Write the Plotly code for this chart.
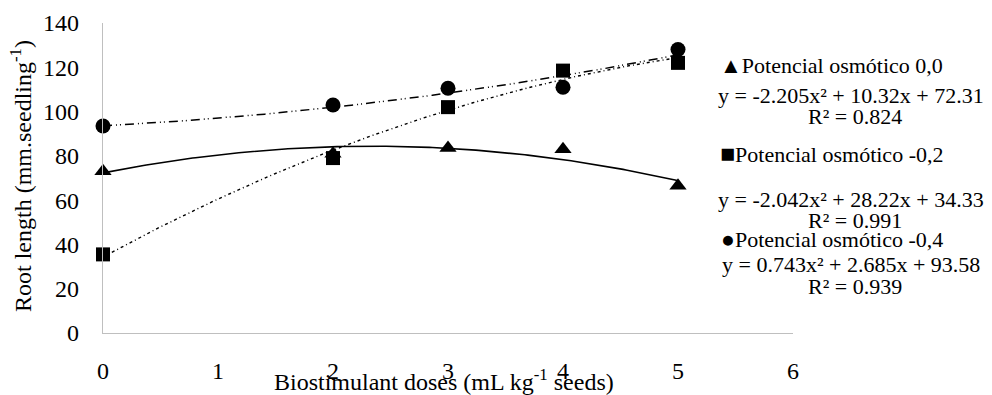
import numpy as np
import plotly.graph_objects as go

# Biostimulant doses (mL kg-1 seeds)
doses = [0, 2, 3, 4, 5]

# Root length (mm.seedling-1) for each osmotic potential
root_00 = [73, 81, 83.5, 83, 66.5]
root_02 = [35.5, 79, 102, 118.5, 122]
root_04 = [93.5, 103, 110.5, 111, 128]

series_names = ["Potencial osmótico 0,0", "Potencial osmótico -0,2", "Potencial osmótico -0,4"]

# Quadratic fit coefficients (a, b, c) for y = a x² + b x + c, and R²
coef_00 = [-2.205, 10.32, 72.31]
coef_02 = [-2.042, 28.22, 34.33]
coef_04 = [0.743, 2.685, 93.58]
r2_values = [0.824, 0.991, 0.939]

x_ticks = [0, 1, 2, 3, 4, 5, 6]
y_ticks = [0, 20, 40, 60, 80, 100, 120, 140]

FONT = "Times New Roman, Liberation Serif, serif"
AXIS_GREY = "#bfbfbf"
CLEAR = "rgba(0,0,0,0)"

# plot-area geometry in pixels
W, H = 992, 395
L, R, T, B = 103, 199, 23, 62
PW, PH = W - L - R, H - T - B


def px_x(p):
    return (p - L) / PW


def px_y(p):
    return (H - B - p) / PH


fig = go.Figure()

x_fit = np.linspace(min(doses), max(doses), 200)
fits = [
    (coef_00, dict(color="black", width=1.6, dash="solid")),
    (coef_02, dict(color="black", width=1.4, dash="3px,3px,1px,3px")),
    (coef_04, dict(color="black", width=1.5, dash="9px,4px,1px,3px,1px,4px")),
]
for coef, line in fits:
    y_fit = np.polyval(coef, x_fit)
    fig.add_trace(go.Scatter(x=x_fit, y=y_fit, mode="lines", line=line,
                             hoverinfo="skip", showlegend=False, cliponaxis=False))

markers = [
    (root_00, "triangle-up", 15),
    (root_02, "square", 14),
    (root_04, "circle", 15),
]
for (vals, sym, size), name in zip(markers, series_names):
    fig.add_trace(go.Scatter(x=doses, y=vals, mode="markers", name=name,
                             marker=dict(symbol=sym, size=size, color="black"),
                             showlegend=False, cliponaxis=False))


def fmt_eq(c):
    def term(v, first=False):
        s = f"{abs(v):g}"
        if first:
            return ("-" if v < 0 else "") + s
        return (" - " if v < 0 else " + ") + s
    return f"y = {term(c[0], True)}x² {term(c[1])[1:]}x{term(c[2])}"


glyphs = [("▲", 22), ("■", 25), ("●", 23)]
coefs = [coef_00, coef_02, coef_04]
name_rows = [66, 153, 239]
eq_rows = [95, 199, 264]
r2_rows = [116, 220, 286]
name_left = [718, 718, 719]

annotations = []
for (g, gs), name, c, r2, ny, ey, ry, nx in zip(glyphs, series_names, coefs, r2_values,
                                                name_rows, eq_rows, r2_rows, name_left):
    annotations.append(dict(x=px_x(nx), y=px_y(ny), xref="paper", yref="paper",
                            xanchor="left", yanchor="middle", showarrow=False,
                            text=f"<span style='font-size:{gs}px'>{g}</span>{name}"))
    annotations.append(dict(x=px_x(851), y=px_y(ey), xref="paper", yref="paper",
                            xanchor="center", yanchor="middle", showarrow=False,
                            text=fmt_eq(c)))
    annotations.append(dict(x=px_x(855), y=px_y(ry), xref="paper", yref="paper",
                            xanchor="center", yanchor="middle", showarrow=False,
                            text=f"R² = {r2:.3f}"))

# axis titles
annotations.append(dict(x=px_x(21), y=px_y(176), xref="paper", yref="paper",
                        xanchor="center", yanchor="middle", textangle=-90, showarrow=False,
                        font=dict(size=24),
                        text="Root length (mm.seedling<sup>-1</sup>)"))
annotations.append(dict(x=px_x(444), y=px_y(380), xref="paper", yref="paper",
                        xanchor="center", yanchor="middle", showarrow=False,
                        font=dict(size=24),
                        text="Biostimulant doses (mL kg<sup>-1</sup> seeds)"))

fig.update_layout(
    width=W, height=H,
    margin=dict(l=L, r=R, t=T, b=B, pad=0, autoexpand=False),
    paper_bgcolor="white", plot_bgcolor="white",
    font=dict(family=FONT, size=22, color="black"),
    annotations=annotations,
    xaxis=dict(range=[0, 6], tickvals=x_ticks, ticktext=[str(v) for v in x_ticks],
               showline=True, linecolor=AXIS_GREY, linewidth=1.3, showgrid=False,
               zeroline=False, ticks="outside", ticklen=16, tickcolor=CLEAR,
               tickfont=dict(size=24), automargin=False, fixedrange=True),
    yaxis=dict(range=[0, 140], tickvals=y_ticks, ticktext=[str(v) for v in y_ticks],
               showline=True, linecolor=AXIS_GREY, linewidth=1.3, showgrid=False,
               zeroline=False, ticks="outside", ticklen=18, tickcolor=CLEAR,
               tickfont=dict(size=24), automargin=False, fixedrange=True),
)

fig.write_html("out.html")
